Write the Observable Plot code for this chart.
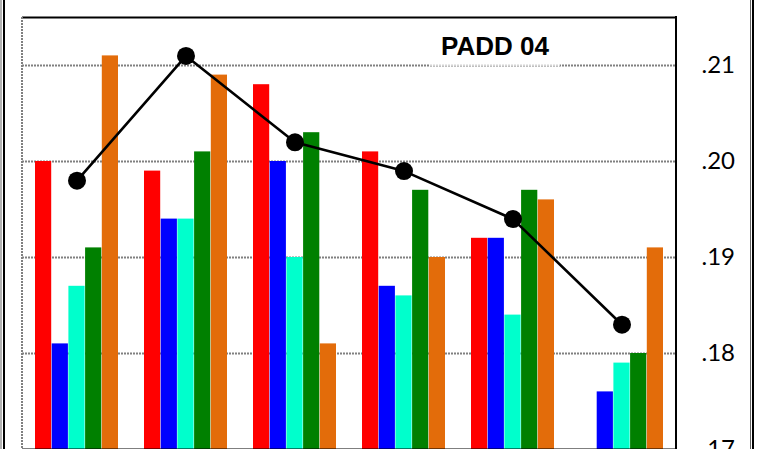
<!DOCTYPE html>
<html><head><meta charset="utf-8">
<script src="https://cdn.jsdelivr.net/npm/d3@7"></script>
<script src="https://cdn.jsdelivr.net/npm/@observablehq/plot@0.6"></script>
<style>
html,body{margin:0;padding:0;background:#fff;}
#wrap{position:relative;width:759px;height:449px;overflow:hidden;}
#title{position:absolute;left:430px;top:24px;width:130px;height:42px;background:rgba(255,255,255,0.65);font:bold 26px "Liberation Sans",Arial,sans-serif;text-align:center;line-height:44px;color:#000;}
</style></head><body><div id="wrap"><div id="title">PADD 04</div></div>
<script>
// data
const groups = ["G1","G2","G3","G4","G5","G6"];
const seriesNames = ["S1","S2","S3","S4","S5"];
const colors = ["#ff0000","#0000ff","#00ffcc","#008000","#e36c0a"];
const s1 = [0.200, 0.199, 0.208, 0.201, 0.192, null];
const s2 = [0.181, 0.194, 0.200, 0.187, 0.192, 0.176];
const s3 = [0.187, 0.194, 0.190, 0.186, 0.184, 0.179];
const s4 = [0.191, 0.201, 0.203, 0.197, 0.197, 0.180];
const s5 = [0.211, 0.209, 0.181, 0.190, 0.196, 0.191];
const lineValues = [0.198, 0.211, 0.202, 0.199, 0.194, 0.183];
const yTicks = [0.17, 0.18, 0.19, 0.20, 0.21];
const tickLabels = [".17", ".18", ".19", ".20", ".21"];
const gridTicks = [0.18, 0.19, 0.20, 0.21];
const yMin = 0.17, yMax = 0.215;

const allSeries = [s1, s2, s3, s4, s5];

const W = 759, H = 449, mL = 22, mR = 83, mT = 17, mB = 0;
const padIn = 0.234, padOut = 0.117;
const step = (W - mL - mR) / (groups.length - padIn + 2 * padOut);
const bw = step * (1 - padIn) / seriesNames.length;

const decor = (index, scales, values, dims) => {
  const g = d3.create("svg:g");
  const x0 = dims.marginLeft, x1 = dims.width - dims.marginRight;
  const y0 = dims.marginTop, y1 = dims.height - dims.marginBottom;
  g.append("line").attr("x1", x0).attr("x2", x0).attr("y1", y0).attr("y2", y1)
    .attr("stroke", "#808080").attr("stroke-width", 2).attr("stroke-dasharray", "2,1");
  g.append("line").attr("x1", x1).attr("x2", x1).attr("y1", y0 - 1).attr("y2", y1)
    .attr("stroke", "#000").attr("stroke-width", 2);
  g.append("line").attr("x1", 1).attr("x2", 1).attr("y1", 0).attr("y2", dims.height).attr("stroke", "#666").attr("stroke-width", 1);
  g.append("line").attr("x1", 4).attr("x2", 4).attr("y1", 0).attr("y2", dims.height).attr("stroke", "#000").attr("stroke-width", 2);
  g.append("line").attr("x1", dims.width - 8.5).attr("x2", dims.width - 8.5).attr("y1", 0).attr("y2", dims.height).attr("stroke", "#666").attr("stroke-width", 1);
  g.append("line").attr("x1", dims.width - 6).attr("x2", dims.width - 6).attr("y1", 0).attr("y2", dims.height).attr("stroke", "#000").attr("stroke-width", 2);
  return g.node();
};

const marks = [
  Plot.ruleY(gridTicks, {stroke: "#808080", strokeWidth: 2, strokeDasharray: "2,1"}),
  ...allSeries.map((vals, i) => Plot.barY(groups, {
    x: d => d,
    y1: () => yMin,
    y2: (d, j) => vals[j],
    fill: colors[i],
    insetLeft: i * bw,
    insetRight: (seriesNames.length - 1 - i) * bw
  })),
  Plot.line(groups, {x: d => d, y: (d, j) => lineValues[j], stroke: "#000", strokeWidth: 2.6}),
  Plot.dot(groups, {x: d => d, y: (d, j) => lineValues[j], r: 9, fill: "#000"}),
  Plot.ruleY([yMax], {stroke: "#000", strokeWidth: 2}),
  Plot.ruleY([yMin], {stroke: "#000", strokeWidth: 2}),
  decor
];

const chart = Plot.plot({
  width: W, height: H,
  marginLeft: mL, marginRight: mR, marginTop: mT, marginBottom: mB,
  style: {fontFamily: "Lato, 'Liberation Sans', sans-serif", fontSize: "24px", background: "#fff", color: "#000"},
  x: {domain: groups, axis: null, paddingInner: padIn, paddingOuter: padOut},
  y: {domain: [yMin, yMax], axis: "right", ticks: yTicks, tickFormat: d => tickLabels[yTicks.indexOf(d)], tickSize: 0, tickPadding: 25, label: null},
  marks
});
const wrap = document.getElementById("wrap");
wrap.insertBefore(chart, wrap.firstChild);
chart.style.position = "absolute";
chart.style.left = "0px";
chart.style.top = "0px";
</script>
</body></html>
